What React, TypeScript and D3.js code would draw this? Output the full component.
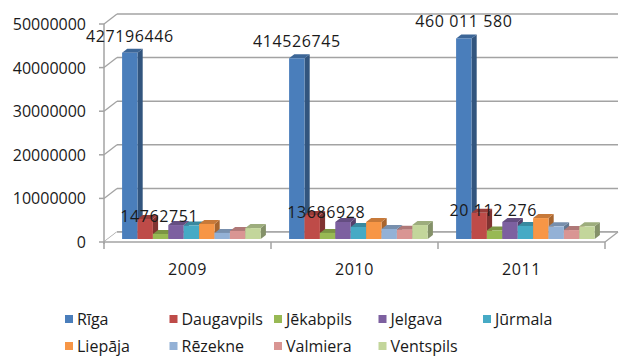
import React from "react";
import * as d3 from "d3";

const years = ["2009", "2010", "2011"];
const cities = ["Rīga", "Daugavpils", "Jēkabpils", "Jelgava", "Jūrmala", "Liepāja", "Rēzekne", "Valmiera", "Ventspils"];
const colors = ["#4A7EBB", "#BE4B48", "#98B954", "#7D60A0", "#46AAC5", "#F79646", "#93B1D6", "#D99593", "#C3D69B"];

const riga = [42719645, 41452675, 46001158];
const daugavpils = [4600000, 5500000, 6000000];
const jekabpils = [1150000, 1400000, 1950000];
const jelgava = [3200000, 3900000, 3900000];
const jurmala = [3100000, 2750000, 3000000];
const liepaja = [3450000, 3900000, 4800000];
const rezekne = [1400000, 2300000, 2900000];
const valmiera = [1850000, 2150000, 2050000];
const ventspils = [2500000, 3200000, 2900000];
const series = [riga, daugavpils, jekabpils, jelgava, jurmala, liepaja, rezekne, valmiera, ventspils];

const rigaLabels = ["427196446", "414526745", "460 011 580"];
const daugavpilsLabels = ["14762751", "13686928", "20 112 276"];
const yTicks = [0, 10000000, 20000000, 30000000, 40000000, 50000000];

const W = 620, H = 358;
const FONT = "'Open Sans', sans-serif";

export default function App() {
  const x0 = d3.scaleBand<string>().domain(years).range([104, 605]).padding(0);
  const groupFrac = 0.83;
  const x1 = d3.scaleBand<string>().domain(cities).range([0, x0.bandwidth() * groupFrac]).padding(0);
  const groupPad = (x0.bandwidth() * (1 - groupFrac)) / 2;
  const y = d3.scaleLinear().domain([0, 50000000]).range([242, 24]);
  const DX = 13, DY = -10; // wall depth
  const fFront = 0.3, fBack = 0.7;

  const grid = "#a3a3a3";
  const back = (v: number) => y(v) + DY;

  const bars: React.ReactNode[] = [];
  years.forEach((yr, yi) => {
    cities.forEach((c, ci) => {
      const v = series[ci][yi];
      const xl = (x0(yr) as number) + groupPad + (x1(c) as number) + DX * fFront;
      const xr = xl + x1.bandwidth();
      const yb = y(0) + DY * fFront;
      const yt = y(v) + DY * fFront;
      const ddx = DX * (fBack - fFront), ddy = DY * (fBack - fFront);
      const col = d3.color(colors[ci])!;
      bars.push(
        <g key={yr + c}>
          <polygon points={`${xr},${yb} ${xr + ddx},${yb + ddy} ${xr + ddx},${yt + ddy} ${xr},${yt}`} fill={col.darker(1.1).toString()} />
          <polygon points={`${xl},${yt} ${xl + ddx},${yt + ddy} ${xr + ddx},${yt + ddy} ${xr},${yt}`} fill={col.darker(0.6).toString()} />
          <rect x={xl} y={yt} width={xr - xl} height={yb - yt} fill={colors[ci]} />
        </g>
      );
    });
  });

  const labels: React.ReactNode[] = [];
  years.forEach((yr, yi) => {
    const base = (x0(yr) as number) + groupPad + DX * fFront;
    const rx = base + (x1("Rīga") as number) + x1.bandwidth() / 2;
    const ry = y(riga[yi]) + DY * fFront;
    labels.push(
      <text key={"r" + yr} x={rx} y={ry - 17} textAnchor="middle" dominantBaseline="central" fontSize={16} letterSpacing={0.6} fill="#1a1a1a" fontFamily={FONT}>{rigaLabels[yi]}</text>
    );
    const dx = base + (x1("Daugavpils") as number) + x1.bandwidth() / 2 + 14;
    const dy = y(daugavpils[yi]) + DY * fFront - 3;
    labels.push(
      <text key={"d" + yr} x={dx} y={dy} textAnchor="middle" dominantBaseline="central" fontSize={16} letterSpacing={0.6} fill="#1a1a1a" fontFamily={FONT}>{daugavpilsLabels[yi]}</text>
    );
  });

  const legendCols = 5;
  const legendX0 = 65, legendColW = 104.5, legendY0 = 319, legendRowH = 27;

  return (
    <svg width={W} height={H} style={{ position: "absolute", left: 0, top: 0, background: "#fff" }}>
      {/* back wall gridlines */}
      {yTicks.map((t) => (
        <line key={"g" + t} x1={104 + DX} x2={605 + DX} y1={back(t)} y2={back(t)} stroke={grid} strokeWidth={1.5} />
      ))}
      {/* side diagonals from front axis to back wall */}
      {yTicks.map((t) => (
        <line key={"d" + t} x1={104} y1={y(t)} x2={104 + DX} y2={back(t)} stroke={grid} strokeWidth={1.3} />
      ))}
      {/* floor */}
      <polygon points={`104,${y(0)} 605,${y(0)} ${605 + DX},${back(0)} ${104 + DX},${back(0)}`} fill="#fff" stroke="none" />
      <line x1={104} x2={605} y1={y(0)} y2={y(0)} stroke={grid} strokeWidth={1.5} />
      <line x1={605} y1={y(0)} x2={605 + DX} y2={back(0)} stroke={grid} strokeWidth={1.3} />
      <line x1={104 + DX} x2={605 + DX} y1={back(0)} y2={back(0)} stroke={grid} strokeWidth={1.5} />
      {/* category ticks */}
      {[...years.map((yr) => x0(yr) as number), 605].map((xx, i) => (
        <line key={"ct" + i} x1={xx} x2={xx} y1={y(0)} y2={y(0) + 7} stroke={grid} strokeWidth={1.5} />
      ))}
      {/* front value axis */}
      <line x1={104} x2={104} y1={y(50000000)} y2={y(0) + 2} stroke={grid} strokeWidth={1.5} />
      {yTicks.map((t) => (
        <line key={"t" + t} x1={99} x2={104} y1={y(t)} y2={y(t)} stroke={grid} strokeWidth={1.5} />
      ))}
      {yTicks.map((t) => (
        <text key={"l" + t} x={86} y={y(t)} textAnchor="end" dominantBaseline="central" fontSize={16} fill="#1a1a1a" fontFamily={FONT}>{String(t)}</text>
      ))}
      {bars}
      {labels}
      {years.map((yr) => (
        <text key={"c" + yr} x={(x0(yr) as number) + x0.bandwidth() / 2} y={269} textAnchor="middle" dominantBaseline="central" fontSize={16} letterSpacing={0.6} fill="#1a1a1a" fontFamily={FONT}>{yr}</text>
      ))}
      {cities.map((c, i) => {
        const col = i % legendCols, row = Math.floor(i / legendCols);
        const lx = legendX0 + col * legendColW, ly = legendY0 + row * legendRowH;
        return (
          <g key={"lg" + c}>
            <rect x={lx} y={ly - 4} width={8} height={8} fill={colors[i]} />
            <text x={lx + 12} y={ly} dominantBaseline="central" fontSize={16} fill="#1a1a1a" fontFamily={FONT}>{c}</text>
          </g>
        );
      })}
    </svg>
  );
}
